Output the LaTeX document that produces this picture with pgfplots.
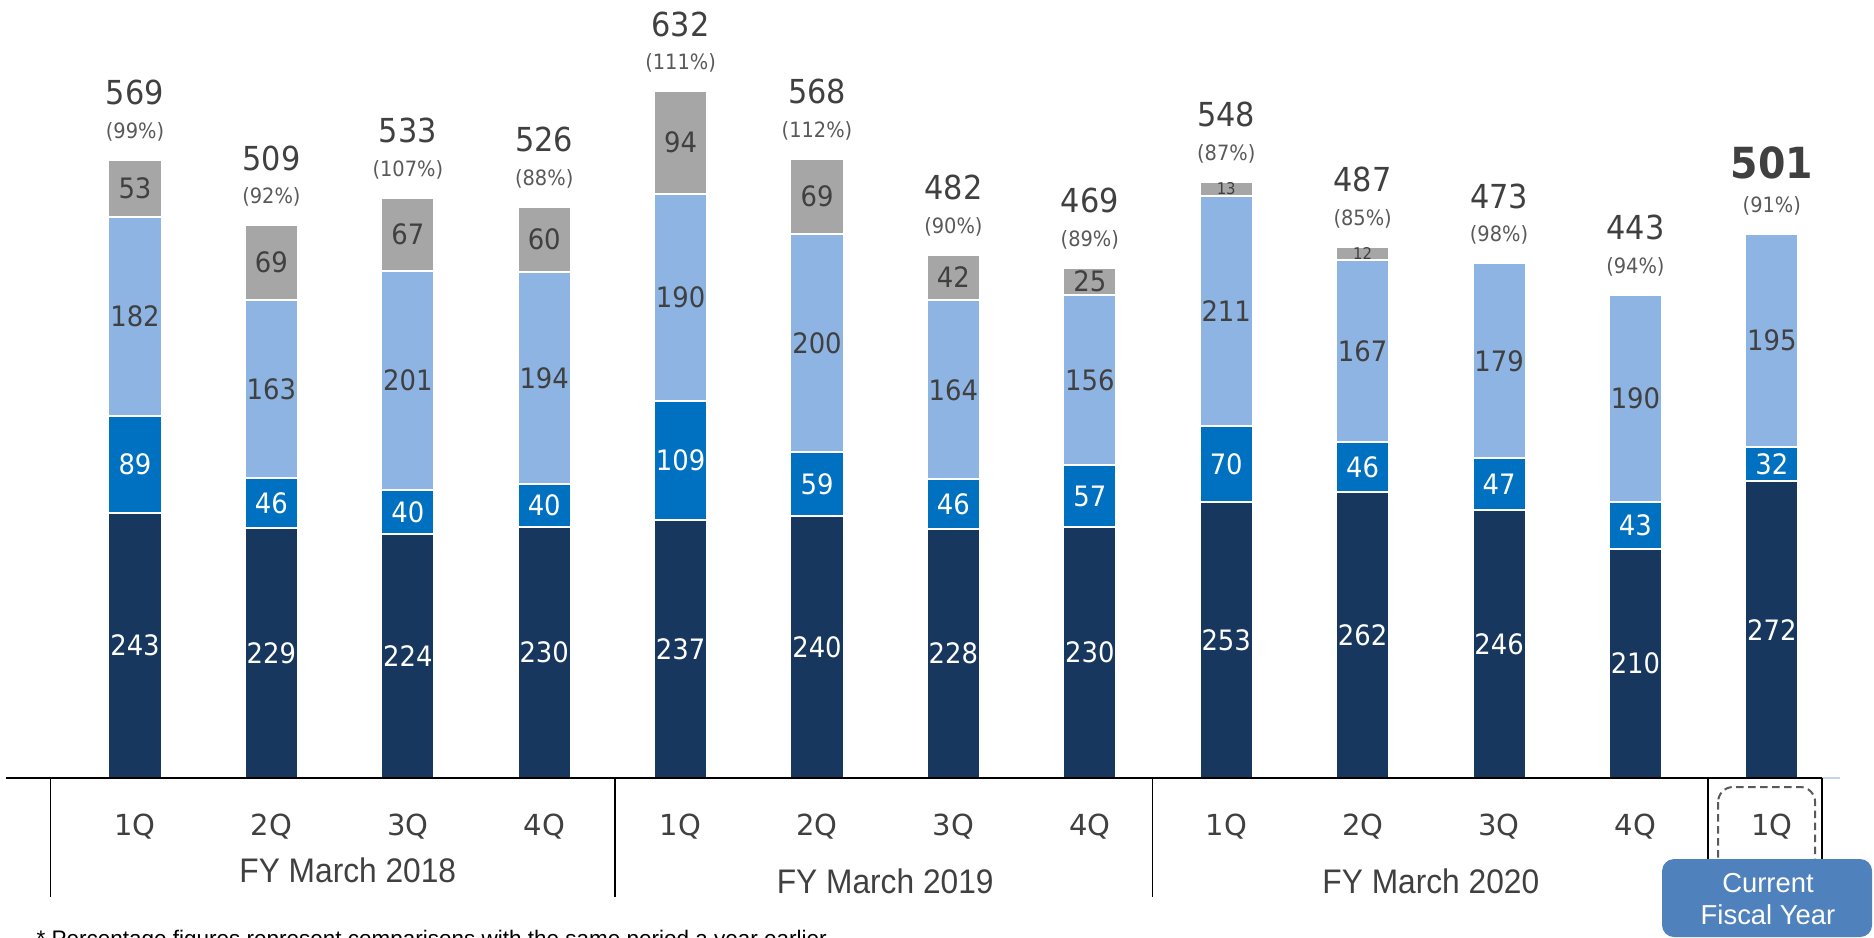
\documentclass[border=0pt]{standalone}
\usepackage{pgfplots}
\pgfplotsset{compat=1.18}
\usepackage{pgfplotstable}
\usepackage{fontspec}
\setmainfont{Liberation Sans}
\newfontfamily\numfont[FakeStretch=0.92]{DejaVu Sans}
\newfontfamily\qfont{DejaVu Sans}
\newfontfamily\fyfont[FakeStretch=0.93]{Liberation Sans}
\definecolor{navy}{HTML}{17375E}
\definecolor{midblue}{HTML}{0070C0}
\definecolor{lightblue}{HTML}{8EB4E3}
\definecolor{greyseg}{HTML}{A6A6A6}
\definecolor{txt}{HTML}{404040}
\definecolor{pcttxt}{HTML}{595959}
\definecolor{boxblue}{HTML}{4F81BD}
\definecolor{axisext}{HTML}{C5D3E8}
\newcommand\segfont{\numfont\fontsize{8}{9.6}\selectfont}
\newcommand\totfont{\numfont\fontsize{9.4}{11}\selectfont}
\newcommand\bigtotfont{\numfont\bfseries\fontsize{12.2}{14}\selectfont}
\newcommand\pctfont{\numfont\fontsize{6}{7}\selectfont}
\newcommand\tinyfont{\numfont\fontsize{4.6}{5.5}\selectfont}
\DeclareRobustCommand\sm[1]{{\tinyfont #1}}

\pgfplotstableread{
x v
0 243
1 229
2 224
3 230
4 237
5 240
6 228
7 230
8 253
9 262
10 246
11 210
12 272
}\navytab
\pgfplotstableread{
x v
0 89
1 46
2 40
3 40
4 109
5 59
6 46
7 57
8 70
9 46
10 47
11 43
12 32
}\midtab
\pgfplotstableread{
x v
0 182
1 163
2 201
3 194
4 190
5 200
6 164
7 156
8 211
9 167
10 179
11 190
12 195
}\lighttab
\pgfplotstableread{
x v l
0 53 53
1 69 69
2 67 67
3 60 60
4 94 94
5 69 69
6 42 42
7 25 25
8 13 \sm{13}
9 12 \sm{12}
}\greytab
\pgfplotstableread{
x top t p
0 567 569 (99\%)
1 507 509 (92\%)
2 532 533 (107\%)
3 524 526 (88\%)
4 630 632 (111\%)
5 568 568 (112\%)
6 480 482 (90\%)
7 468 469 (89\%)
8 547 548 (87\%)
9 487 487 (85\%)
10 472 473 (98\%)
11 443 443 (94\%)
}\labtab

\pgfplotsset{base/.style={at={(0,0)}, anchor=south west, scale only axis,
  width=183.46mm, height=76.335mm, xmin=-0.95, xmax=12.5, ymin=0, ymax=700,
  clip=false}}

\begin{document}
\begin{tikzpicture}
\useasboundingbox (-0.542mm,-15.9mm) rectangle (186.858mm,77.8mm);
\begin{axis}[base, hide axis, ybar stacked, bar width=0.389,
  nodes near coords, point meta=explicit symbolic,
  nodes near coords align={center},
  every node near coord/.append style={anchor=center, inner sep=0pt}]
\addplot[fill=navy, draw=white, line width=0.2mm,
  every node near coord/.append style={text=white, font=\segfont}]
  table[x=x, y=v, meta=v]{\navytab};
\addplot[fill=midblue, draw=white, line width=0.2mm,
  every node near coord/.append style={text=white, font=\segfont}]
  table[x=x, y=v, meta=v]{\midtab};
\addplot[fill=lightblue, draw=white, line width=0.2mm,
  every node near coord/.append style={text=txt, font=\segfont}]
  table[x=x, y=v, meta=v]{\lighttab};
\addplot[fill=greyseg, draw=white, line width=0.2mm,
  every node near coord/.append style={text=txt, font=\segfont}]
  table[x=x, y=v, meta=l]{\greytab};
\end{axis}
\begin{axis}[base, axis line style={draw=none}, ytick=\empty,
  xtick={0,...,12},
  xticklabels={1Q,2Q,3Q,4Q,1Q,2Q,3Q,4Q,1Q,2Q,3Q,4Q,1Q},
  major tick length=0pt,
  xticklabel style={font=\qfont\fontsize{8.25}{10}\selectfont, text=txt,
    anchor=center, yshift=-4.85mm},
  point meta=explicit symbolic, nodes near coords]
\addplot[draw=none, mark=none,
  every node near coord/.append style={anchor=center, yshift=2.8mm,
    font=\pctfont, text=pcttxt}]
  table[x=x, y=top, meta=p]{\labtab};
\addplot[draw=none, mark=none,
  every node near coord/.append style={anchor=center, yshift=6.7mm,
    font=\totfont, text=txt}]
  table[x=x, y=top, meta=t]{\labtab};
\addplot[draw=none, mark=none,
  every node near coord/.append style={anchor=center, yshift=2.8mm,
    font=\pctfont, text=pcttxt}]
  coordinates {(12,499) [(91\%)]};
\addplot[draw=none, mark=none,
  every node near coord/.append style={anchor=center, yshift=7.1mm,
    font=\bigtotfont, text=txt}]
  coordinates {(12,499) [501]};
% axis line and separators
\draw[black, line width=0.15mm] (axis cs:-0.946,0) -- (axis cs:12.368,0);
\draw[axisext, line width=0.15mm] (axis cs:12.368,0) -- (axis cs:12.5,0);
\draw[black, line width=0.15mm] (axis cs:-0.62,0) -- (axis cs:-0.62,-109.1);
\draw[black, line width=0.15mm] (axis cs:3.52,0) -- (axis cs:3.52,-109.1);
\draw[black, line width=0.15mm] (axis cs:7.46,0) -- (axis cs:7.46,-109.1);
\draw[black, line width=0.15mm] (axis cs:11.532,0) -- (axis cs:11.532,-74.3);
\draw[black, line width=0.15mm] (axis cs:12.368,0) -- (axis cs:12.368,-74.3);
% dashed box round current quarter
\draw[pcttxt, line width=0.2mm, rounded corners=1.5mm,
  dash pattern=on 0.75mm off 0.45mm]
  (axis cs:11.606,-8.25) rectangle (axis cs:12.317,-111.9);
% current fiscal year badge
\fill[boxblue, rounded corners=1.2mm]
  (axis cs:11.195,-74.3) rectangle (axis cs:12.735,-145.8);
\node[align=center, text=white, inner sep=0pt,
  font=\fontsize{7.8}{9.1}\selectfont] at (axis cs:11.972,-111)
  {Current\\Fiscal Year};
% fiscal year labels
\node[font=\fyfont\fontsize{9.7}{11}\selectfont, text=txt, inner sep=0pt]
  at (axis cs:1.56,-84.4) {FY March 2018};
\node[font=\fyfont\fontsize{9.7}{11}\selectfont, text=txt, inner sep=0pt]
  at (axis cs:5.5,-94.5) {FY March 2019};
\node[font=\fyfont\fontsize{9.7}{11}\selectfont, text=txt, inner sep=0pt]
  at (axis cs:9.5,-94.5) {FY March 2020};
% footnote (cut by the page edge)
\node[anchor=base west, inner sep=0pt, font=\fontsize{6.4}{7.7}\selectfont]
  at (axis cs:-0.726,-154.1)
  {* Percentage figures represent comparisons with the same period a year earlier.};
\end{axis}
\end{tikzpicture}
\end{document}
